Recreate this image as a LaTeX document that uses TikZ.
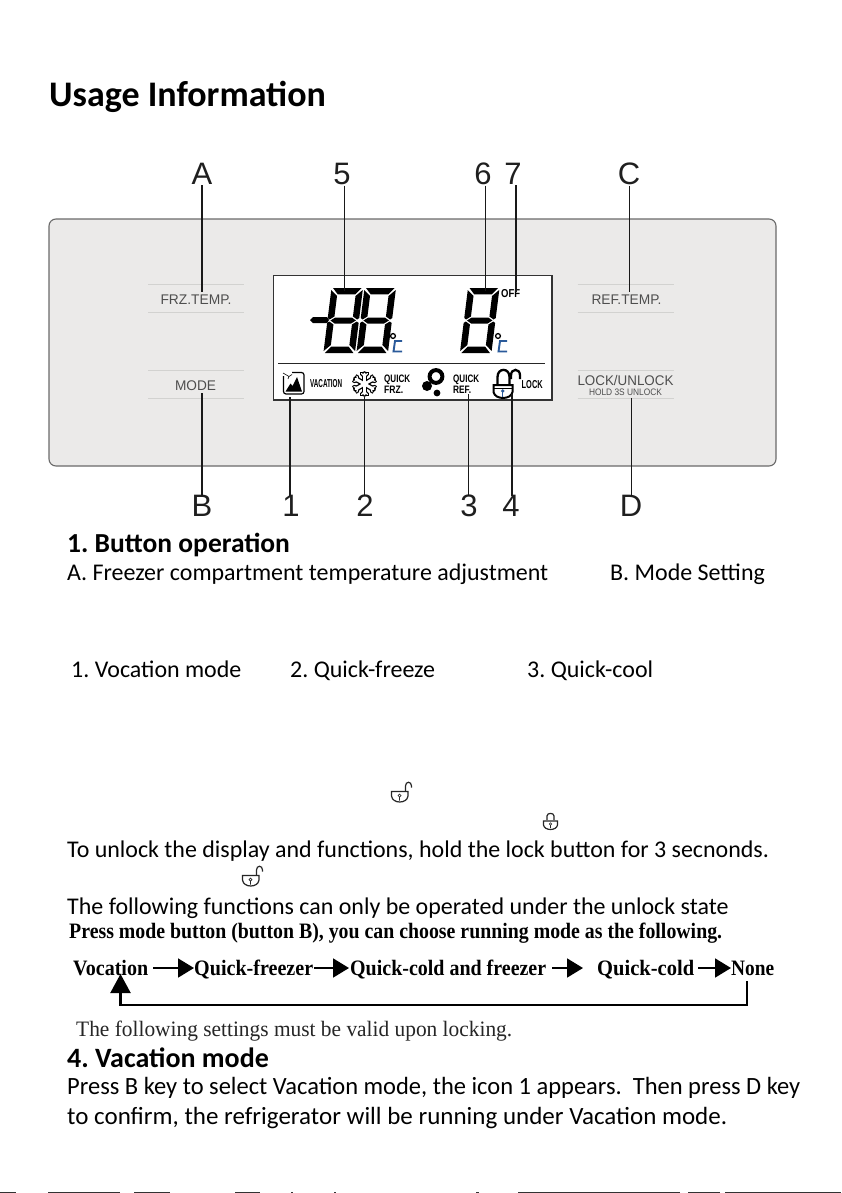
\documentclass[tikz,border=0pt]{standalone}
\usepackage{fontspec}
\usepackage{graphicx}
\setmainfont{Carlito}
\newfontfamily\arialf{Liberation Sans}
\newfontfamily\timesf{Liberation Serif}
\usetikzlibrary{arrows.meta,calc}
\definecolor{panelbg}{HTML}{EBEAE9}
\definecolor{panelln}{HTML}{6A6A6A}
\definecolor{btnln}{HTML}{D2D2D0}
\definecolor{btntx}{HTML}{4E4E4E}
\definecolor{lcdblue}{HTML}{2A5A9A}
\newcommand{\fitw}[2]{\resizebox{#1pt}{\height}{#2}}
\newcommand{\twolines}[2]{\vbox{\baselineskip=10.2pt\lineskiplimit=-9pt\hbox{#1}\hbox{#2}}}
\frenchspacing
\tikzset{
  x=1pt,y=-1pt,
  body/.style={anchor=base west,inner sep=0pt,font=\fontsize{23.95}{26}\selectfont,text=black},
  head/.style={anchor=base west,inner sep=0pt,font=\fontsize{27.5}{30}\selectfont\bfseries},
  letter/.style={inner sep=1pt,anchor=base,font=\arialf\fontsize{31}{34}\selectfont,text=black!88},
  lead/.style={draw=black!90,line width=1.5pt},
  btnline/.style={draw=btnln,line width=.7pt},
  btn/.style={inner sep=0pt,anchor=base,text=btntx,font=\arialf\fontsize{14}{16}\selectfont},
  lcdt/.style={inner sep=0pt,anchor=base west,font=\arialf\bfseries\fontsize{11.5}{11}\selectfont},
  lcdtwo/.style={inner sep=0pt,anchor=south west,font=\arialf\bfseries\fontsize{10.8}{11}\selectfont},
  ser/.style={anchor=base west,inner sep=0pt,font=\timesf\bfseries\fontsize{22}{24}\selectfont},
  flow/.style={line width=1.8pt,-{Triangle[length=16pt,width=19pt]}},
}
% seven segment digit: top-left origin
\newcommand{\lcddigit}[2]{%
\begin{scope}[shift={(#1,#2)},xslant=.125]
 \fill[black] (1.5,0)--(30,0)--(24.5,6.3)--(7,6.3)--cycle;
 \fill[black] (1.5,65)--(30,65)--(24.5,58.7)--(7,58.7)--cycle;
 \fill[black] (3,32.5)--(7.5,29.5)--(24,29.5)--(28.5,32.5)--(24,35.5)--(7.5,35.5)--cycle;
 \fill[black] (0,2)--(6.5,8)--(6.5,28.5)--(2,31.5)--(0,30)--cycle;
 \fill[black] (0,63)--(6.5,57)--(6.5,36.5)--(2,33.5)--(0,35)--cycle;
 \fill[black] (31.5,2)--(25,8)--(25,28.5)--(29.5,31.5)--(31.5,30)--cycle;
 \fill[black] (31.5,63)--(25,57)--(25,36.5)--(29.5,33.5)--(31.5,35)--cycle;
\end{scope}}
\newcommand{\degc}[2]{%
\begin{scope}[shift={(#1,#2)}]
 \draw[black,line width=1.3pt] (3,3) circle (2.4);
 \draw[lcdblue,line width=1.9pt] (12,8)--(5,8)--(3.5,18.5)--(12,18.5);
\end{scope}}
\newcommand{\openlock}[2]{%
\begin{scope}[shift={(#1,#2)}]
 \draw[black!85,line width=1.2pt] (0.5,9.5)--(17,9.5)--(17,14) .. controls (16,22) and (1.5,22) .. (0.5,14)--cycle;
 \draw[black!85,line width=1.2pt] (14.5,9.5)--(14.5,4) .. controls (14.5,-1) and (20.5,-1) .. (20.5,4)--(20.5,5.5);
 \draw[black!85,line width=.7pt] (8.5,13.5) circle (1.5) (8.5,15)--(8.5,18.5);
\end{scope}}
\begin{document}
\begin{tikzpicture}
\useasboundingbox (0,0) rectangle (841,1193);
\fill[white] (0,0) rectangle (841,1193);

\node[anchor=base west,inner sep=0pt,font=\fontsize{36}{38}\selectfont\bfseries] (title) at (49,106.5) {Usage Information};

% panel
\draw[panelln,fill=panelbg,line width=1.1pt,rounded corners=7pt] (49,219) rectangle (776,466);
\draw[black!80,fill=white,line width=1.1pt] (273.5,275.5) rectangle (552,400);

% button rules
\foreach \xa/\xb/\yy in {148/244/284,148/244/312,148/244/370.5,148/244/398.5,577.5/674/284,577.5/674/312,577.5/674/370.5,577.5/674/398.5}
  \draw[btnline] (\xa,\yy)--(\xb,\yy);
\node[btn] (frz) at (196,304) {\fitw{71}{FRZ.TEMP.}};
\node[btn] (mode) at (195.5,390) {\fitw{41}{MODE}};
\node[btn] (ref) at (626.5,304.5) {\fitw{70}{REF.TEMP.}};
\node[btn] (lock) at (625.5,385) {\fitw{96}{LOCK/UNLOCK}};
\node[btn,font=\arialf\fontsize{9.4}{10}\selectfont] (hold) at (625.5,395.5) {\fitw{73}{HOLD 3S UNLOCK}};

% LCD
\lcddigit{331.5}{288}
\lcddigit{364.5}{288}
\lcddigit{468}{288}
\fill[black] (310,320) -- (313,317) -- (327,317) -- (329,320) -- (327,323.2) -- (313,323.2) -- cycle;
\degc{390}{333}
\degc{495}{333}
\node[lcdt] (off) at (501,297.5) {\fitw{19}{OFF}};
\draw[black!85,line width=1pt] (278,363)--(545,363);

% vacation icon
\draw[black,line width=1.2pt,rounded corners=2.5pt] (292,372.5)--(304,372.5)--(304,394)--(283.5,394)--(283.5,376);
\draw[black,line width=.6pt] (283,373)--(289,376.5)--(292,374.5) (289,376.5)--(288,379);
\fill[black] (285.5,391.5)--(290.5,383.5)--(292.5,386)--(297,377)--(302,391.5)--cycle;
\node[lcdt] (vac) at (310,387.5) {\fitw{32}{VACATION}};

% snowflake
\begin{scope}[shift={(364.5,384)}]
 \foreach \a in {30,90,150,210,270,330} {
   \draw[black,line width=5.6pt,line cap=round] (0,0)--(\a:10);
   \draw[black,line width=3.6pt,line cap=round] (\a:7.5)--++(\a+45:4.4) (\a:7.5)--++(\a-45:4.4);
 }
 \foreach \a in {30,90,150,210,270,330} {
   \draw[white,line width=3pt,line cap=round] (0,0)--(\a:9.8);
   \draw[white,line width=1.2pt,line cap=round] (\a:7.5)--++(\a+45:4.2) (\a:7.5)--++(\a-45:4.2);
 }
\end{scope}
\node[lcdtwo] (qf) at (384,393.3) {\twolines{\fitw{26}{QUICK}}{\fitw{19}{FRZ.}}};

% quick ref icon
\draw[black,line width=4pt] (436,376.5) circle (6.4);
\fill[black] (427,386) circle (5);
\fill[black] (437,393) circle (3.4);
\node[lcdtwo] (qr) at (453,393.3) {\twolines{\fitw{26}{QUICK}}{\fitw{18}{REF.}}};

% lock icon
\draw[black,line width=2.3pt] (497.5,385)--(497.5,377) .. controls (497.5,367.5) and (509.5,367.5) .. (509.5,377)--(509.5,385);
\draw[black,line width=2.3pt] (511,379)--(511,375.5) .. controls (511,368) and (520,368) .. (520,375.5)--(520,379);
\draw[black,line width=2pt] (493.5,385)--(512.5,385)--(512.5,392) .. controls (511,400) and (495,400) .. (493.5,392)--cycle;
\draw[black,line width=1.2pt] (493.5,388.5)--(512.5,388.5);
\fill[lcdblue] (502.7,391) circle (1.8);
\draw[lcdblue,line width=1pt] (502.7,391)--(502.7,397);
\node[lcdt] (lk) at (521.5,388) {\fitw{21}{LOCK}};

% letters
\node[letter] (lA) at (202,185) {A};
\node[letter] (l5) at (342,185) {5};
\node[letter] (l6) at (483,185) {6};
\node[letter] (l7) at (513,185) {7};
\node[letter] (lC) at (629,185) {C};
\node[letter] (lB) at (202,516) {B};
\node[letter] (l1) at (291,516) {1};
\node[letter] (l2) at (365,516) {2};
\node[letter] (l3) at (469,516) {3};
\node[letter] (l4) at (511,516) {4};
\node[letter] (lD) at (631,516) {D};

% leader ends
\coordinate (eA) at (202,292);
\coordinate (e5) at (344.5,291);
\coordinate (e6) at (485.5,291);
\coordinate (e7) at (516,292);
\coordinate (eC) at (629.5,292);
\coordinate (eB) at (202,393);
\coordinate (e1) at (290,397);
\coordinate (e2) at (364.5,397);
\coordinate (e3) at (468.5,394);
\coordinate (e4) at (512,394);
\coordinate (eD) at (631.5,398);
\foreach \l/\e in {lA/eA,l5/e5,l6/e6,l7/e7,lC/eC}
  \draw[lead] (\e |- \l.south) ++(0,-1) -- (\e);
\foreach \l/\e in {lB/eB,l1/e1,l2/e2,l3/e3,l4/e4,lD/eD}
  \draw[lead] (\e |- \l.north) ++(0,3) -- (\e);

% body text
\node[head] (h1) at (67,552) {1. Button operation};
\node[body] (ta) at (67,580) {A. Freezer compartment temperature adjustment};
\node[body] (tb) at (610,580) {B. Mode Setting};
\node[body] (t1) at (71,677) {1. Vocation mode};
\node[body] (t2) at (290,677) {2. Quick-freeze};
\node[body] (t3) at (527,677) {3. Quick-cool};
\node[body] (tu) at (67,857) {To unlock the display and functions, hold the lock button for 3 secnonds.};
\node[body] (tf) at (67,914) {The following functions can only be operated under the unlock state};

\openlock{391}{782}
\openlock{242}{866}
\begin{scope}[shift={(543,813)}]
 \draw[black!85,line width=1.2pt] (4,7)--(4,3) .. controls (4,-.5) and (11,-.5) .. (11,3)--(11,7);
 \draw[black!85,line width=1.2pt] (.5,8)--(14.5,8)--(14.5,12) .. controls (13.5,18) and (1.5,18) .. (.5,12)--cycle;
 \draw[black!85,line width=.6pt] (7.5,11) circle (1.2) (7.5,12.2)--(7.5,15);
\end{scope}

% serif block
\node[ser] (press) at (69,938) {\fitw{653}{Press mode button (button B), you can choose running mode as the following.}};
\node[ser] (fa) at (73,975) {\fitw{75}{Vocation}};
\node[ser] (fb) at (194,975) {\fitw{119}{Quick-freezer}};
\node[ser] (fc) at (350,975) {\fitw{196}{Quick-cold and freezer}};
\node[ser] (fd) at (597,975) {\fitw{97}{Quick-cold}};
\node[ser] (fe) at (731,975) {\fitw{43}{None}};
\draw[flow,shorten <=5pt] ($(fa.base east)+(0,-7)$) -- ($(fb.base west)+(0,-7)$);
\draw[flow,shorten <=1pt,shorten >=1pt] ($(fb.base east)+(0,-7)$) -- ($(fc.base west)+(0,-7)$);
\draw[flow,shorten <=6pt,shorten >=14pt] ($(fc.base east)+(0,-7)$) -- ($(fd.base west)+(0,-7)$);
\draw[flow,shorten <=4pt] ($(fd.base east)+(0,-7)$) -- ($(fe.base west)+(0,-7)$);
\coordinate (fbs) at (747,981);
\coordinate (fbt) at (120.5,974);
\draw[line width=2.2pt,-{Triangle[length=19pt,width=20pt]}] (fbs) -- (fbs |- 0,1005) -- (fbt |- 0,1005) -- (fbt);

\node[anchor=base west,inner sep=0pt,font=\timesf\fontsize{22}{24}\selectfont,text=black!85] (set) at (76,1036) {\fitw{436}{The following settings must be valid upon locking.}};

\node[head,font=\fontsize{28}{30}\selectfont\bfseries] (h4) at (67,1067) {4. Vacation mode};
\node[body,font=\fontsize{24.8}{26}\selectfont] (p1) at (67,1094) {\fitw{733}{Press B key to select Vacation mode, the icon 1 appears.\ \ Then press D key}};
\node[body,font=\fontsize{24.8}{26}\selectfont] (p2) at (67,1124) {\fitw{660}{to confirm, the refrigerator will be running under Vacation mode.}};

% scan noise along the bottom edge
\foreach \xa/\xb in {0/16,48/120,134/170,235/260,291/293,334/336,476/479,518/680,688/720,725/841}
  \fill[black!80] (\xa,1191.7) rectangle (\xb,1193);
\end{tikzpicture}
\end{document}
